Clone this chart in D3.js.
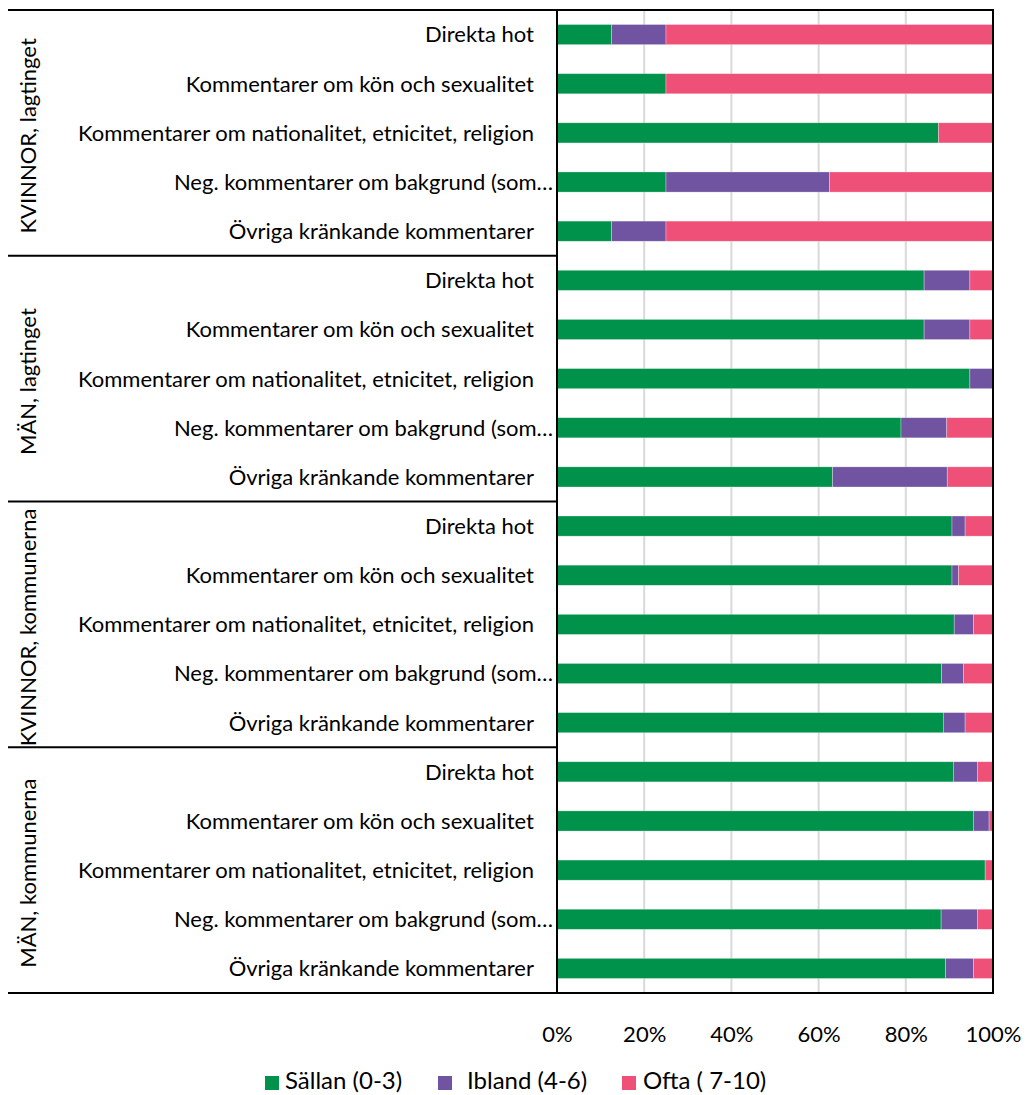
<!DOCTYPE html>
<html>
<head>
<meta charset="utf-8">
<script src="https://cdn.jsdelivr.net/npm/d3@7"></script>
<style>
	body { margin: 0; background: #fff; }
	text { font-family: Lato, "Open Sans", sans-serif; fill: #000; }
</style>
</head>
<body>
<svg width="1027" height="1095"></svg>
<script>
var groups = ["KVINNOR, lagtinget", "MÄN, lagtinget", "KVINNOR, kommunerna", "MÄN, kommunerna"];
var items = [
	"Direkta hot",
	"Kommentarer om kön och sexualitet",
	"Kommentarer om nationalitet, etnicitet, religion",
	"Neg. kommentarer om bakgrund (som…",
	"Övriga kränkande kommentarer"
];
var seriesNames = ["Sällan (0-3)", "Ibland (4-6)", "Ofta ( 7-10)"];
var seriesColors = ["#00924a", "#7054a2", "#ef5078"];

// one value per row, groups in order, items in order
var sallan = [12.5, 25, 87.5, 25, 12.5,  84.2, 84.2, 94.7, 78.9, 63.2,  90.6, 90.6, 91.1, 88.2, 88.6,  90.9, 95.5, 98.2, 88.1, 89.1];
var ibland = [12.5, 0, 0, 37.5, 12.5,  10.5, 10.5, 5.3, 10.5, 26.3,  3.0, 1.5, 4.4, 5.0, 5.0,  5.5, 3.6, 0, 8.3, 6.4];
var ofta   = [75, 75, 12.5, 37.5, 75,  5.3, 5.3, 0, 10.5, 10.5,  6.4, 7.9, 4.5, 6.8, 6.4,  3.6, 0.9, 1.8, 3.6, 4.5];
var xTicks = [0, 20, 40, 60, 80, 100];

var rows = [];
groups.forEach(function(g, gi) {
	items.forEach(function(it, ii) {
		var i = gi * items.length + ii;
		rows.push({id: i, group: g, item: it, s0: sallan[i], s1: ibland[i], s2: ofta[i]});
	});
});

var stacked = d3.stack().keys(["s0", "s1", "s2"])(rows);

var svg = d3.select("svg");
var plotLeft = 557, plotRight = 993, plotTop = 10, plotBottom = 993;
var fontSize = "22px";

var x = d3.scaleLinear().domain([0, 100]).range([plotLeft, plotRight]);
var y = d3.scaleBand().domain(rows.map(function(d) { return d.id; })).range([plotTop, plotBottom]).paddingInner(0.59).paddingOuter(0.295);
var color = d3.scaleOrdinal().domain(["s0", "s1", "s2"]).range(seriesColors);

// gridlines
svg.append("g")
	.selectAll("line")
	.data(xTicks.slice(1, -1))
	.enter()
	.append("line")
	.attr("x1", function(d) { return x(d); })
	.attr("x2", function(d) { return x(d); })
	.attr("y1", plotTop)
	.attr("y2", plotBottom)
	.attr("stroke", "#d9d9d9")
	.attr("stroke-width", 2);

// bars
svg.append("g")
	.selectAll("g")
	.data(stacked)
	.enter()
	.append("g")
	.attr("fill", function(d) { return color(d.key); })
	.selectAll("rect")
	.data(function(d) { return d; })
	.enter()
	.append("rect")
	.attr("x", function(d) { return x(d[0]); })
	.attr("y", function(d) { return y(d.data.id); })
	.attr("width", function(d) { return x(d[1]) - x(d[0]); })
	.attr("height", y.bandwidth())
	.attr("stroke", "#ffffff")
	.attr("stroke-opacity", 0.5)
	.attr("stroke-width", 0.6);

// plot border
svg.append("rect")
	.attr("x", plotLeft)
	.attr("y", plotTop)
	.attr("width", plotRight - plotLeft)
	.attr("height", plotBottom - plotTop)
	.attr("fill", "none")
	.attr("stroke", "#000")
	.attr("stroke-width", 2);

// group separators on the category axis
var groupH = (plotBottom - plotTop) / groups.length;
svg.append("g")
	.selectAll("line")
	.data(d3.range(groups.length + 1))
	.enter()
	.append("line")
	.attr("x1", 8)
	.attr("x2", plotLeft)
	.attr("y1", function(d) { return plotTop + d * groupH; })
	.attr("y2", function(d) { return plotTop + d * groupH; })
	.attr("stroke", "#000")
	.attr("stroke-width", 2);

// item labels
svg.append("g")
	.selectAll("text")
	.data(rows)
	.enter()
	.append("text")
	.text(function(d) { return d.item; })
	.attr("x", function(d) { return d.item.slice(-1) == "…" ? 553 : 534; })
	.attr("y", function(d) { return y(d.id) + y.bandwidth() / 2; })
	.attr("dy", "0.36em")
	.attr("text-anchor", "end")
	.style("font-size", fontSize);

// group labels
svg.append("g")
	.selectAll("text")
	.data(groups)
	.enter()
	.append("text")
	.text(function(d) { return d; })
	.attr("transform", function(d, i) {
		return "translate(36," + (plotTop + (i + 0.5) * groupH + 3) + ") rotate(-90)";
	})
	.attr("text-anchor", "middle")
	.style("font-size", fontSize);

// x axis
var xAxis = d3.axisBottom(x)
	.tickValues(xTicks)
	.tickSize(0)
	.tickPadding(0)
	.tickFormat(function(d) { return d + "%"; });

var axisG = svg.append("g")
	.attr("transform", "translate(0,1034)")
	.call(xAxis);
axisG.select(".domain").remove();
axisG.selectAll("text")
	.attr("dy", "0.36em")
	.style("font-size", fontSize)
	.style("font-family", "Lato, sans-serif");

// legend
var legendX = [265, 438, 622];
var legendTextX = [20, 29, 21];
var legend = svg.append("g")
	.selectAll("g")
	.data(seriesNames)
	.enter()
	.append("g")
	.attr("transform", function(d, i) { return "translate(" + legendX[i] + ",1076)"; });

legend.append("rect")
	.attr("width", 14)
	.attr("height", 14)
	.attr("fill", function(d, i) { return seriesColors[i]; });

legend.append("text")
	.text(function(d) { return d; })
	.attr("x", function(d, i) { return legendTextX[i]; })
	.attr("y", 13)
	.style("font-size", "24px");
</script>
</body>
</html>
